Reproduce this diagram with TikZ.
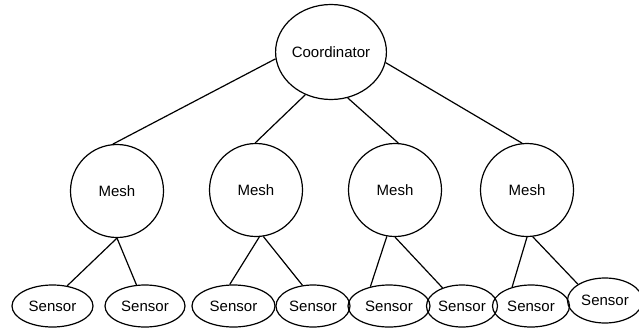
\documentclass[tikz,border=0pt]{standalone}
\usepackage{fontspec}
\setmainfont{Liberation Sans}
\usetikzlibrary{shapes.geometric}
\begin{document}
\begin{tikzpicture}[x=1pt, y=-1pt, line width=1.2pt,
  lbl/.style={font=\fontsize{15}{18}\selectfont},
  coordnode/.style={draw, ellipse, lbl, inner sep=0pt, minimum width=108pt, minimum height=95pt},
  meshnode/.style={draw, circle, lbl, inner sep=0pt, minimum size=93pt},
  sensornode/.style={draw, ellipse, lbl, inner sep=0pt, minimum height=42pt},
  link/.style={draw, line width=1.2pt}]
\useasboundingbox (0,0) rectangle (639,329);

% root of the tree
\node[coordnode] (C) at (331,52) {Coordinator};

% mesh routers
\node[meshnode] (M1) at (117,191) {Mesh};
\node[meshnode] (M2) at (256,190) {Mesh};
\node[meshnode] (M3) at (395,190) {Mesh};
\node[meshnode] (M4) at (527,190) {Mesh};

% sensor leaves
\node[sensornode, minimum width=81pt] (S1) at (52.5,306) {Sensor};
\node[sensornode, minimum width=80pt] (S2) at (145,306) {Sensor};
\node[sensornode, minimum width=83pt] (S3) at (233.5,306) {Sensor};
\node[sensornode, minimum width=74pt] (S4) at (313,306) {Sensor};
\node[sensornode, minimum width=82pt] (S5) at (389,306) {Sensor};
\node[sensornode, minimum width=71pt] (S6) at (462,306) {Sensor};
\node[sensornode, minimum width=77pt] (S7) at (531,306) {Sensor};
\node[sensornode, minimum width=75pt, minimum height=45pt] (S8) at (605,300.5) {Sensor};

% coordinator to meshes
\draw[link] (C.187) -- (M1.95);
\draw[link] (C.239) -- (M2.91);
\draw[link] (C.290) -- (M3.86);
\draw[link] (C.349) -- (M4.96);

% meshes to sensors
\draw[link] (M1.270) -- (S1.54);
\draw[link] (M1.270) -- (S2.112);
\draw[link] (M2.274) -- (S3.100);
\draw[link] (M2.279) -- (S4.117);
\draw[link] (M3.260) -- (S5.134);
\draw[link] (M3.270) -- (S6.137);
\draw[link] (M4.270) -- (S7.135);
\draw[link] (M4.277) -- (S8.149);
\end{tikzpicture}
\end{document}
